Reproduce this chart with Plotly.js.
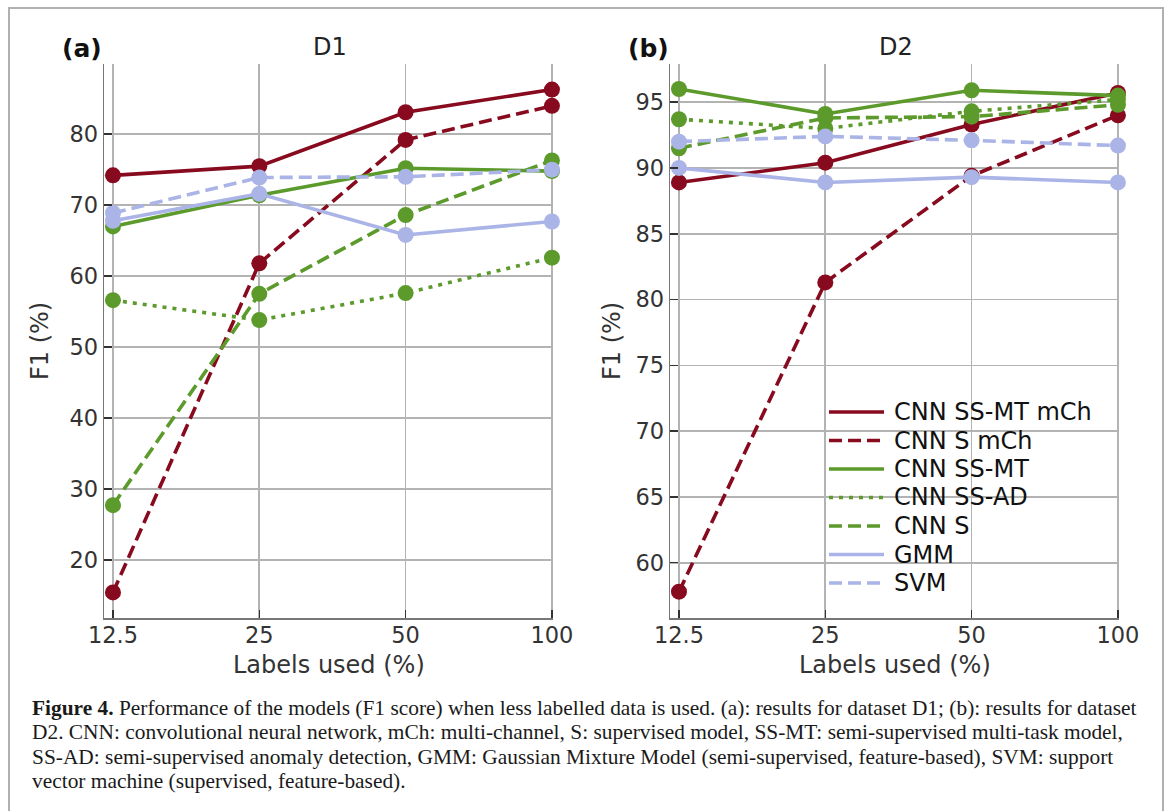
<!DOCTYPE html>
<html>
<head>
<meta charset="utf-8">
<script src="https://cdn.plot.ly/plotly-3.0.1.min.js"></script>
<style>html,body{margin:0;padding:0;background:#fff;}#chart{width:1171px;height:811px;}</style>
</head>
<body>
<div id="chart"></div>
<script>
// ---------- data ----------
const labelsUsed = ['12.5', '25', '50', '100'];
const seriesNames = ['CNN SS-MT mCh', 'CNN S mCh', 'CNN SS-MT', 'CNN SS-AD', 'CNN S', 'GMM', 'SVM'];

// D1 (panel a)
const d1_ssmt_mch = [74.2, 75.5, 83.1, 86.3];
const d1_s_mch    = [15.4, 61.8, 79.2, 84.0];
const d1_ssmt     = [67.0, 71.4, 75.2, 74.8];
const d1_ssad     = [56.6, 53.8, 57.6, 62.6];
const d1_s        = [27.7, 57.5, 68.6, 76.3];
const d1_gmm      = [67.8, 71.6, 65.8, 67.7];
const d1_svm      = [68.9, 73.9, 74.0, 75.0];

// D2 (panel b)
const d2_ssmt_mch = [88.9, 90.4, 93.3, 95.7];
const d2_s_mch    = [57.8, 81.3, 89.4, 94.0];
const d2_ssmt     = [96.0, 94.1, 95.9, 95.5];
const d2_ssad     = [93.7, 93.0, 94.3, 95.2];
const d2_s        = [91.5, 93.8, 93.9, 94.8];
const d2_gmm      = [90.0, 88.9, 89.3, 88.9];
const d2_svm      = [92.0, 92.4, 92.1, 91.7];

const d1Ticks = [20, 30, 40, 50, 60, 70, 80];
const d2Ticks = [60, 65, 70, 75, 80, 85, 90, 95];

// ---------- styles ----------
const RED = '#870a1e', GREEN = '#5b9a2b', BLUE = '#aab4e6';
const DASH = '13px,6px', DOT = '4px,6px';
const styles = [
  {color: RED, dash: 'solid'},
  {color: RED, dash: DASH},
  {color: GREEN, dash: 'solid'},
  {color: GREEN, dash: DOT},
  {color: GREEN, dash: DASH},
  {color: BLUE, dash: 'solid'},
  {color: BLUE, dash: DASH}
];
const d1 = [d1_ssmt_mch, d1_s_mch, d1_ssmt, d1_ssad, d1_s, d1_gmm, d1_svm];
const d2 = [d2_ssmt_mch, d2_s_mch, d2_ssmt, d2_ssad, d2_s, d2_gmm, d2_svm];

const W = 1171, H = 811;
const px = v => v / W;
const py = v => 1 - v / H;

const traces = [];
function addPanel(data, xa, ya) {
  data.forEach((vals, i) => {
    traces.push({
      type: 'scatter', mode: 'lines+markers',
      x: labelsUsed, y: vals, xaxis: xa, yaxis: ya,
      name: seriesNames[i], showlegend: false,
      line: {color: styles[i].color, dash: styles[i].dash, width: 3.6},
      marker: {color: styles[i].color, size: 16},
      cliponaxis: false
    });
  });
}
addPanel(d1, 'x', 'y');
addPanel(d2, 'x2', 'y2');

const FONT = 'DejaVu Sans, sans-serif';
const axisCommon = {
  type: 'category',
  showgrid: true, gridcolor: '#b3b3b3', gridwidth: 1.6,
  showline: true, linecolor: '#777', linewidth: 1.5,
  ticks: 'inside', ticklen: 8, tickwidth: 1.5, tickcolor: '#333',
  tickfont: {family: FONT, size: 22.5, color: '#333'},
  zeroline: false, fixedrange: true
};
const yDomain = [py(618), py(64)];

const layout = {
  width: W, height: H,
  margin: {l: 0, r: 0, t: 0, b: 0},
  paper_bgcolor: '#fff', plot_bgcolor: '#fff',
  showlegend: false,
  font: {family: FONT, color: '#333'},
  xaxis: Object.assign({}, axisCommon, {domain: [px(104.2), px(553.4)], range: [-0.06, 3.01], anchor: 'y', ticklabelstandoff: -4}),
  yaxis: Object.assign({}, axisCommon, {type: 'linear', domain: yDomain, range: [11.8, 89.9], tickvals: d1Ticks, anchor: 'x'}),
  xaxis2: Object.assign({}, axisCommon, {domain: [px(670.2), px(1119.4)], range: [-0.06, 3.01], anchor: 'y2', ticklabelstandoff: -4}),
  yaxis2: Object.assign({}, axisCommon, {type: 'linear', domain: yDomain, range: [55.8, 97.9], tickvals: d2Ticks, anchor: 'x2'}),
  shapes: [],
  annotations: []
};

// frame around figure
layout.shapes.push({type: 'rect', xref: 'paper', yref: 'paper', x0: px(9), x1: px(1163), y0: py(830), y1: py(8),
  line: {color: '#b0b0b0', width: 2}, fillcolor: 'rgba(0,0,0,0)', layer: 'below'});

function ann(text, x, y, opts) {
  layout.annotations.push(Object.assign({
    xref: 'paper', yref: 'paper', x: px(x), y: py(y), text: text, showarrow: false,
    xanchor: 'center', yanchor: 'middle', font: {family: FONT, size: 24, color: '#222'}
  }, opts || {}));
}
// panel titles
ann('<b>(a)</b>', 82, 48, {font: {family: FONT, size: 25, color: '#111'}});
ann('D1', 330, 47, {font: {family: FONT, size: 24, color: '#222'}});
ann('<b>(b)</b>', 648, 48, {font: {family: FONT, size: 25, color: '#111'}});
ann('D2', 896, 47, {font: {family: FONT, size: 24, color: '#222'}});
// axis titles
ann('F1 (%)', 40, 341, {textangle: -90, font: {family: FONT, size: 24, color: '#333'}});
ann('F1 (%)', 612, 341, {textangle: -90, font: {family: FONT, size: 24, color: '#333'}});
ann('Labels used (%)', 329, 665, {font: {family: FONT, size: 24, color: '#333'}});
ann('Labels used (%)', 895, 665, {font: {family: FONT, size: 24, color: '#333'}});

// legend (manual, in panel b)
seriesNames.forEach((name, i) => {
  const yy = 412 + 28.5 * i;
  layout.shapes.push({type: 'line', xref: 'paper', yref: 'paper', x0: px(829), x1: px(884), y0: py(yy), y1: py(yy),
    line: {color: styles[i].color, width: 3.6, dash: styles[i].dash}});
  ann(name, 892, yy, {xanchor: 'left', font: {family: FONT, size: 24, color: '#111'}});
});

// caption
const SERIF = 'Liberation Serif, serif';
const captionLines = [
  '<b>Figure 4.</b> Performance of the models (F1 score) when less labelled data is used. (a): results for dataset D1; (b): results for dataset',
  'D2. CNN: convolutional neural network, mCh: multi-channel, S: supervised model, SS-MT: semi-supervised multi-task model,',
  'SS-AD: semi-supervised anomaly detection, GMM: Gaussian Mixture Model (semi-supervised, feature-based), SVM: support',
  'vector machine (supervised, feature-based).'
];
captionLines.forEach((t, i) => {
  ann(t, 30, 708 + 24.3 * i, {xanchor: 'left', font: {family: SERIF, size: 21.4, color: '#1a1a1a'}});
});

Plotly.newPlot('chart', traces, layout, {displayModeBar: false, staticPlot: true});
</script>
</body>
</html>
